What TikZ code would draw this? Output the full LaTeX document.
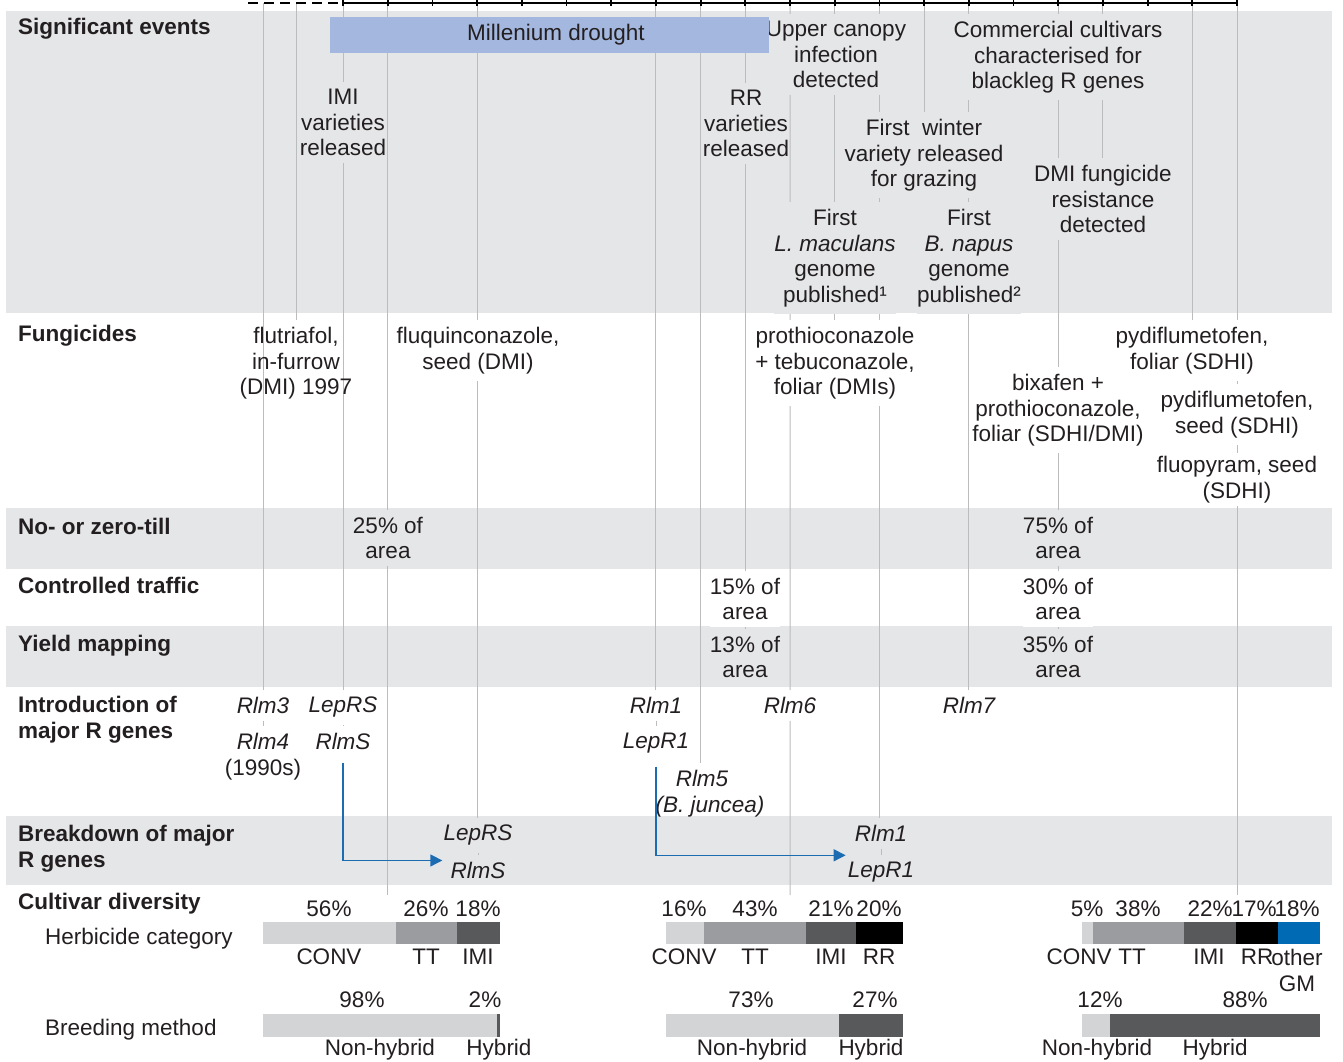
\documentclass[tikz,border=0pt]{standalone}
\usepackage{fontspec}
\setmainfont{Liberation Sans}
\usetikzlibrary{arrows.meta}

\definecolor{ink}{RGB}{35,31,32}
\definecolor{band}{RGB}{229,230,232}
\definecolor{guide}{RGB}{187,188,190}
\definecolor{drought}{RGB}{164,183,222}
\definecolor{conv}{RGB}{211,212,214}
\definecolor{tt}{RGB}{155,156,160}
\definecolor{imi}{RGB}{88,89,91}
\definecolor{gm}{RGB}{0,106,180}
\definecolor{arrowblue}{RGB}{28,108,178}

\newcommand\basefont{\fontsize{22.5}{25.5}\selectfont}

\pgfdeclarelayer{back}
\pgfdeclarelayer{guides}
\pgfsetlayers{back,guides,main}

\tikzset{
  every node/.style={text=ink},
  head/.style={anchor=north west, inner sep=0pt, align=left, font=\basefont\bfseries},
  sub/.style={anchor=north west, inner sep=0pt},
  lab/.style={anchor=north, align=center, inner xsep=0pt, inner ysep=7pt, yshift=7pt},
  evt/.style={lab, fill=band},
  fng/.style={lab, fill=white},
  gene/.style={lab, font=\basefont\itshape},
  pct/.style={anchor=north, inner sep=0pt, align=center},
  guideline/.style={draw=guide, line width=1pt},
  brk/.style={draw=arrowblue, line width=1.4pt, -{Triangle[length=12pt,width=12pt]}},
}

\begin{document}
\begin{tikzpicture}[x=1pt, y=-1pt, font=\basefont]
\useasboundingbox (0,0) rectangle (1343,1061);

% time axis
\draw[line width=2.4pt, dash pattern=on 10pt off 6pt] (248,3) -- (343,3);
\draw[line width=2.4pt] (343,3) -- (1237,3);
\foreach \i in {0,...,20}{
  \coordinate (t\i) at ({343+44.7*\i},3);
  \draw[line width=1.8pt] ({343+44.7*\i},-6) -- ({343+44.7*\i},6);
}
\coordinate (ta) at (263,3);
\coordinate (tb) at (296,3);
\coordinate (cv1) at (t1 |- 0,895);
\coordinate (cv2) at (t10 |- 0,895);
\coordinate (cv3) at (t20 |- 0,895);

% row headings
\node[head] (hsig) at (18,18) {Significant events};
\node[head] (hfun) at (18,325) {Fungicides};
\node[head] (htill) at (18,518) {No- or zero-till};
\node[head] (htraf) at (18,577) {Controlled traffic};
\node[head] (hyield) at (18,635) {Yield mapping};
\node[head] (hintro) at (18,696) {Introduction of\\major R genes};
\node[head] (hbreak) at (18,825) {Breakdown of major\\R genes};
\node[head] (hcult) at (18,893) {Cultivar diversity};
\node[sub] (hherb) at (45,928) {Herbicide category};
\node[sub] (hbreed) at (45,1019) {Breeding method};

% significant events
\node[evt] (upper) at (836,21) {Upper canopy\\infection\\detected};
\node[evt] (comm) at (1058,21) {Commercial cultivars\\characterised for\\blackleg R genes};
\node[evt] (imi) at (343,89) {IMI\\varieties\\released};
\node[evt] (rr) at (746,90) {RR\\varieties\\released};
\node[evt] (winter) at (924,119) {First\ \ winter\\variety released\\for grazing};
\node[evt] (dmi) at (1103,165) {DMI fungicide\\resistance\\detected};
\node[evt] (lmac) at (835,209) {First\\\textit{L. maculans}\\genome\\published¹};
\node[evt] (bnap) at (969,209) {First\\\textit{B. napus}\\genome\\published²};
\node[fill=drought, minimum width=439pt, minimum height=36pt, inner sep=0pt] (drought) at (549.5,35) {\hspace{13pt}Millenium drought};

% fungicides
\node[lab] (flut) at (296,327) {flutriafol,\\in-furrow\\(DMI) 1997};
\node[fng] (fluq) at (478,327) {fluquinconazole,\\seed (DMI)};
\node[fng] (proth) at (835,327) {prothioconazole\\+ tebuconazole,\\foliar (DMIs)};
\node[fng] (bix) at (1058,374) {bixafen +\\prothioconazole,\\foliar (SDHI/DMI)};
\node[fng] (pydf) at (1192,327) {pydiflumetofen,\\foliar (SDHI)};
\node[fng] (pyds) at (1237,391) {pydiflumetofen,\\seed (SDHI)};
\node[fng, inner ysep=3pt, yshift=-4pt] (fluo) at (1237,456) {fluopyram, seed\\(SDHI)};

% adoption of practices
\node[lab, fill=band] (till25) at (388,517) {25\% of\\area};
\node[lab, fill=band] (till75) at (1058,517) {75\% of\\area};
\node[fng] (ct15) at (745,578) {15\% of\\area};
\node[fng] (ct30) at (1058,578) {30\% of\\area};
\node[lab, fill=band] (ym13) at (745,636) {13\% of\\area};
\node[lab, fill=band] (ym35) at (1058,636) {35\% of\\area};

% R genes
\node[gene] (rlm3) at (263,697) {Rlm3};
\node[gene] (rlm4) at (263,733) {Rlm4\\{\upshape (1990s)}};
\node[gene] (lepRSa) at (343,697) {LepRS};
\node[gene] (rlmSa) at (343,733) {RlmS};
\node[gene] (rlm1a) at (656,697) {Rlm1};
\node[gene] (lepR1a) at (656,733) {LepR1};
\node[gene] (rlm5) at (710,770) {Rlm5\hspace*{16pt}\\(B. juncea)};
\node[gene] (rlm6) at (790,697) {Rlm6};
\node[gene] (rlm7) at (969,697) {Rlm7};
\node[gene] (lepRSb) at (478,825) {LepRS};
\node[gene] (rlmSb) at (478,862) {RlmS};
\node[gene] (rlm1b) at (881,825) {Rlm1};
\node[gene] (lepR1b) at (881,862) {LepR1};

% cultivar diversity bars
\fill[conv] (263,922) rectangle (396,944);
\fill[tt] (396,922) rectangle (457,944);
\fill[imi] (457,922) rectangle (500,944);
\fill[conv] (263,1014) rectangle (497,1037);
\fill[imi] (497,1014) rectangle (500,1037);
\fill[conv] (666,922) rectangle (704,944);
\fill[tt] (704,922) rectangle (806,944);
\fill[imi] (806,922) rectangle (856,944);
\fill[black] (856,922) rectangle (903,944);
\fill[conv] (666,1014) rectangle (839,1037);
\fill[imi] (839,1014) rectangle (903,1037);
\fill[conv] (1082,922) rectangle (1093,944);
\fill[tt] (1093,922) rectangle (1184,944);
\fill[imi] (1184,922) rectangle (1236,944);
\fill[black] (1236,922) rectangle (1278,944);
\fill[gm] (1278,922) rectangle (1320,944);
\fill[conv] (1082,1014) rectangle (1110,1037);
\fill[imi] (1110,1014) rectangle (1320,1037);

\node[pct] (p1a) at (329,901) {56\%};
\node[pct] (p1b) at (426,901) {26\%};
\node[pct] (p1c) at (478,901) {18\%};
\node[pct] (n1a) at (329,949) {CONV};
\node[pct] (n1b) at (426,949) {TT};
\node[pct] (n1c) at (478,949) {IMI};
\node[pct] (q1a) at (362,992) {98\%};
\node[pct] (q1b) at (485,992) {2\%};
\node[pct] (m1a) at (380,1039) {Non-hybrid};
\node[pct] (m1b) at (499,1039) {Hybrid};

\node[pct] (p2a) at (684,901) {16\%};
\node[pct] (p2b) at (755,901) {43\%};
\node[pct] (p2c) at (831,901) {21\%};
\node[pct] (p2d) at (879,901) {20\%};
\node[pct] (n2a) at (684,949) {CONV};
\node[pct] (n2b) at (755,949) {TT};
\node[pct] (n2c) at (831,949) {IMI};
\node[pct] (n2d) at (879,949) {RR};
\node[pct] (q2a) at (751,992) {73\%};
\node[pct] (q2b) at (875,992) {27\%};
\node[pct] (m2a) at (752,1039) {Non-hybrid};
\node[pct] (m2b) at (871,1039) {Hybrid};

\node[pct] (p3a) at (1087,901) {5\%};
\node[pct] (p3b) at (1138,901) {38\%};
\node[pct] (p3c) at (1210,901) {22\%};
\node[pct] (p3d) at (1254,901) {17\%};
\node[pct] (p3e) at (1297,901) {18\%};
\node[pct] (n3a) at (1079,949) {CONV};
\node[pct] (n3b) at (1132,949) {TT};
\node[pct] (n3c) at (1209,949) {IMI};
\node[pct] (n3d) at (1257,949) {RR};
\node[pct] (n3e) at (1297,949) {other\\GM};
\node[pct] (q3a) at (1100,992) {12\%};
\node[pct] (q3b) at (1245,992) {88\%};
\node[pct] (m3a) at (1097,1039) {Non-hybrid};
\node[pct] (m3b) at (1215,1039) {Hybrid};

% breakdown arrows
\draw[brk, shorten <=6pt] (rlmSa.south) |- ([xshift=-8pt,yshift=10pt]rlmSb.west);
\draw[brk, shorten <=6pt] (lepR1a.south) |- ([xshift=-2pt,yshift=17pt]lepR1b.west);

% year guides
\begin{pgfonlayer}{guides}
\draw[guideline] (ta) -- (ta |- rlm3.north) (rlm3.south) -- (rlm4.north);
\draw[guideline] (tb) -- (tb |- flut.north);
\draw[guideline] (t0) -- (t0 |- lepRSa.north) (lepRSa.south) -- (rlmSa.north);
\draw[guideline] (t1) -- (cv1);
\draw[guideline] (t3) -- (t3 |- lepRSb.north) (lepRSb.south) -- (rlmSb.north);
\draw[guideline] (t7) -- (t7 |- rlm1a.north) (rlm1a.south) -- (lepR1a.north);
\draw[guideline] (t8) -- (t8 |- rlm5.north);
\draw[guideline] (t9) -- (t9 |- ym13.north);
\draw[guideline] (t10) -- (t10 |- rlm6.north) (rlm6.south) -- (cv2);
\draw[guideline] (t11) -- (t11 |- proth.north);
\draw[guideline] (t12) -- (t12 |- rlm1b.north) (rlm1b.south) -- (lepR1b.north);
\draw[guideline] (t13) -- (t13 |- winter.north);
\draw[guideline] (t14) -- (t14 |- rlm7.north);
\draw[guideline] (t16) -- (t16 |- ym35.north);
\draw[guideline] (t17) -- (t17 |- dmi.north);
\draw[guideline] (t19) -- (t19 |- pydf.north);
\draw[guideline] (t20) -- (cv3);
\end{pgfonlayer}

% bands
\begin{pgfonlayer}{back}
\fill[band] (6,11) rectangle (1332,313);
\fill[band] (6,508) rectangle (1332,569);
\fill[band] (6,626) rectangle (1332,687);
\fill[band] (6,816) rectangle (1332,885);
\end{pgfonlayer}
\end{tikzpicture}
\end{document}
